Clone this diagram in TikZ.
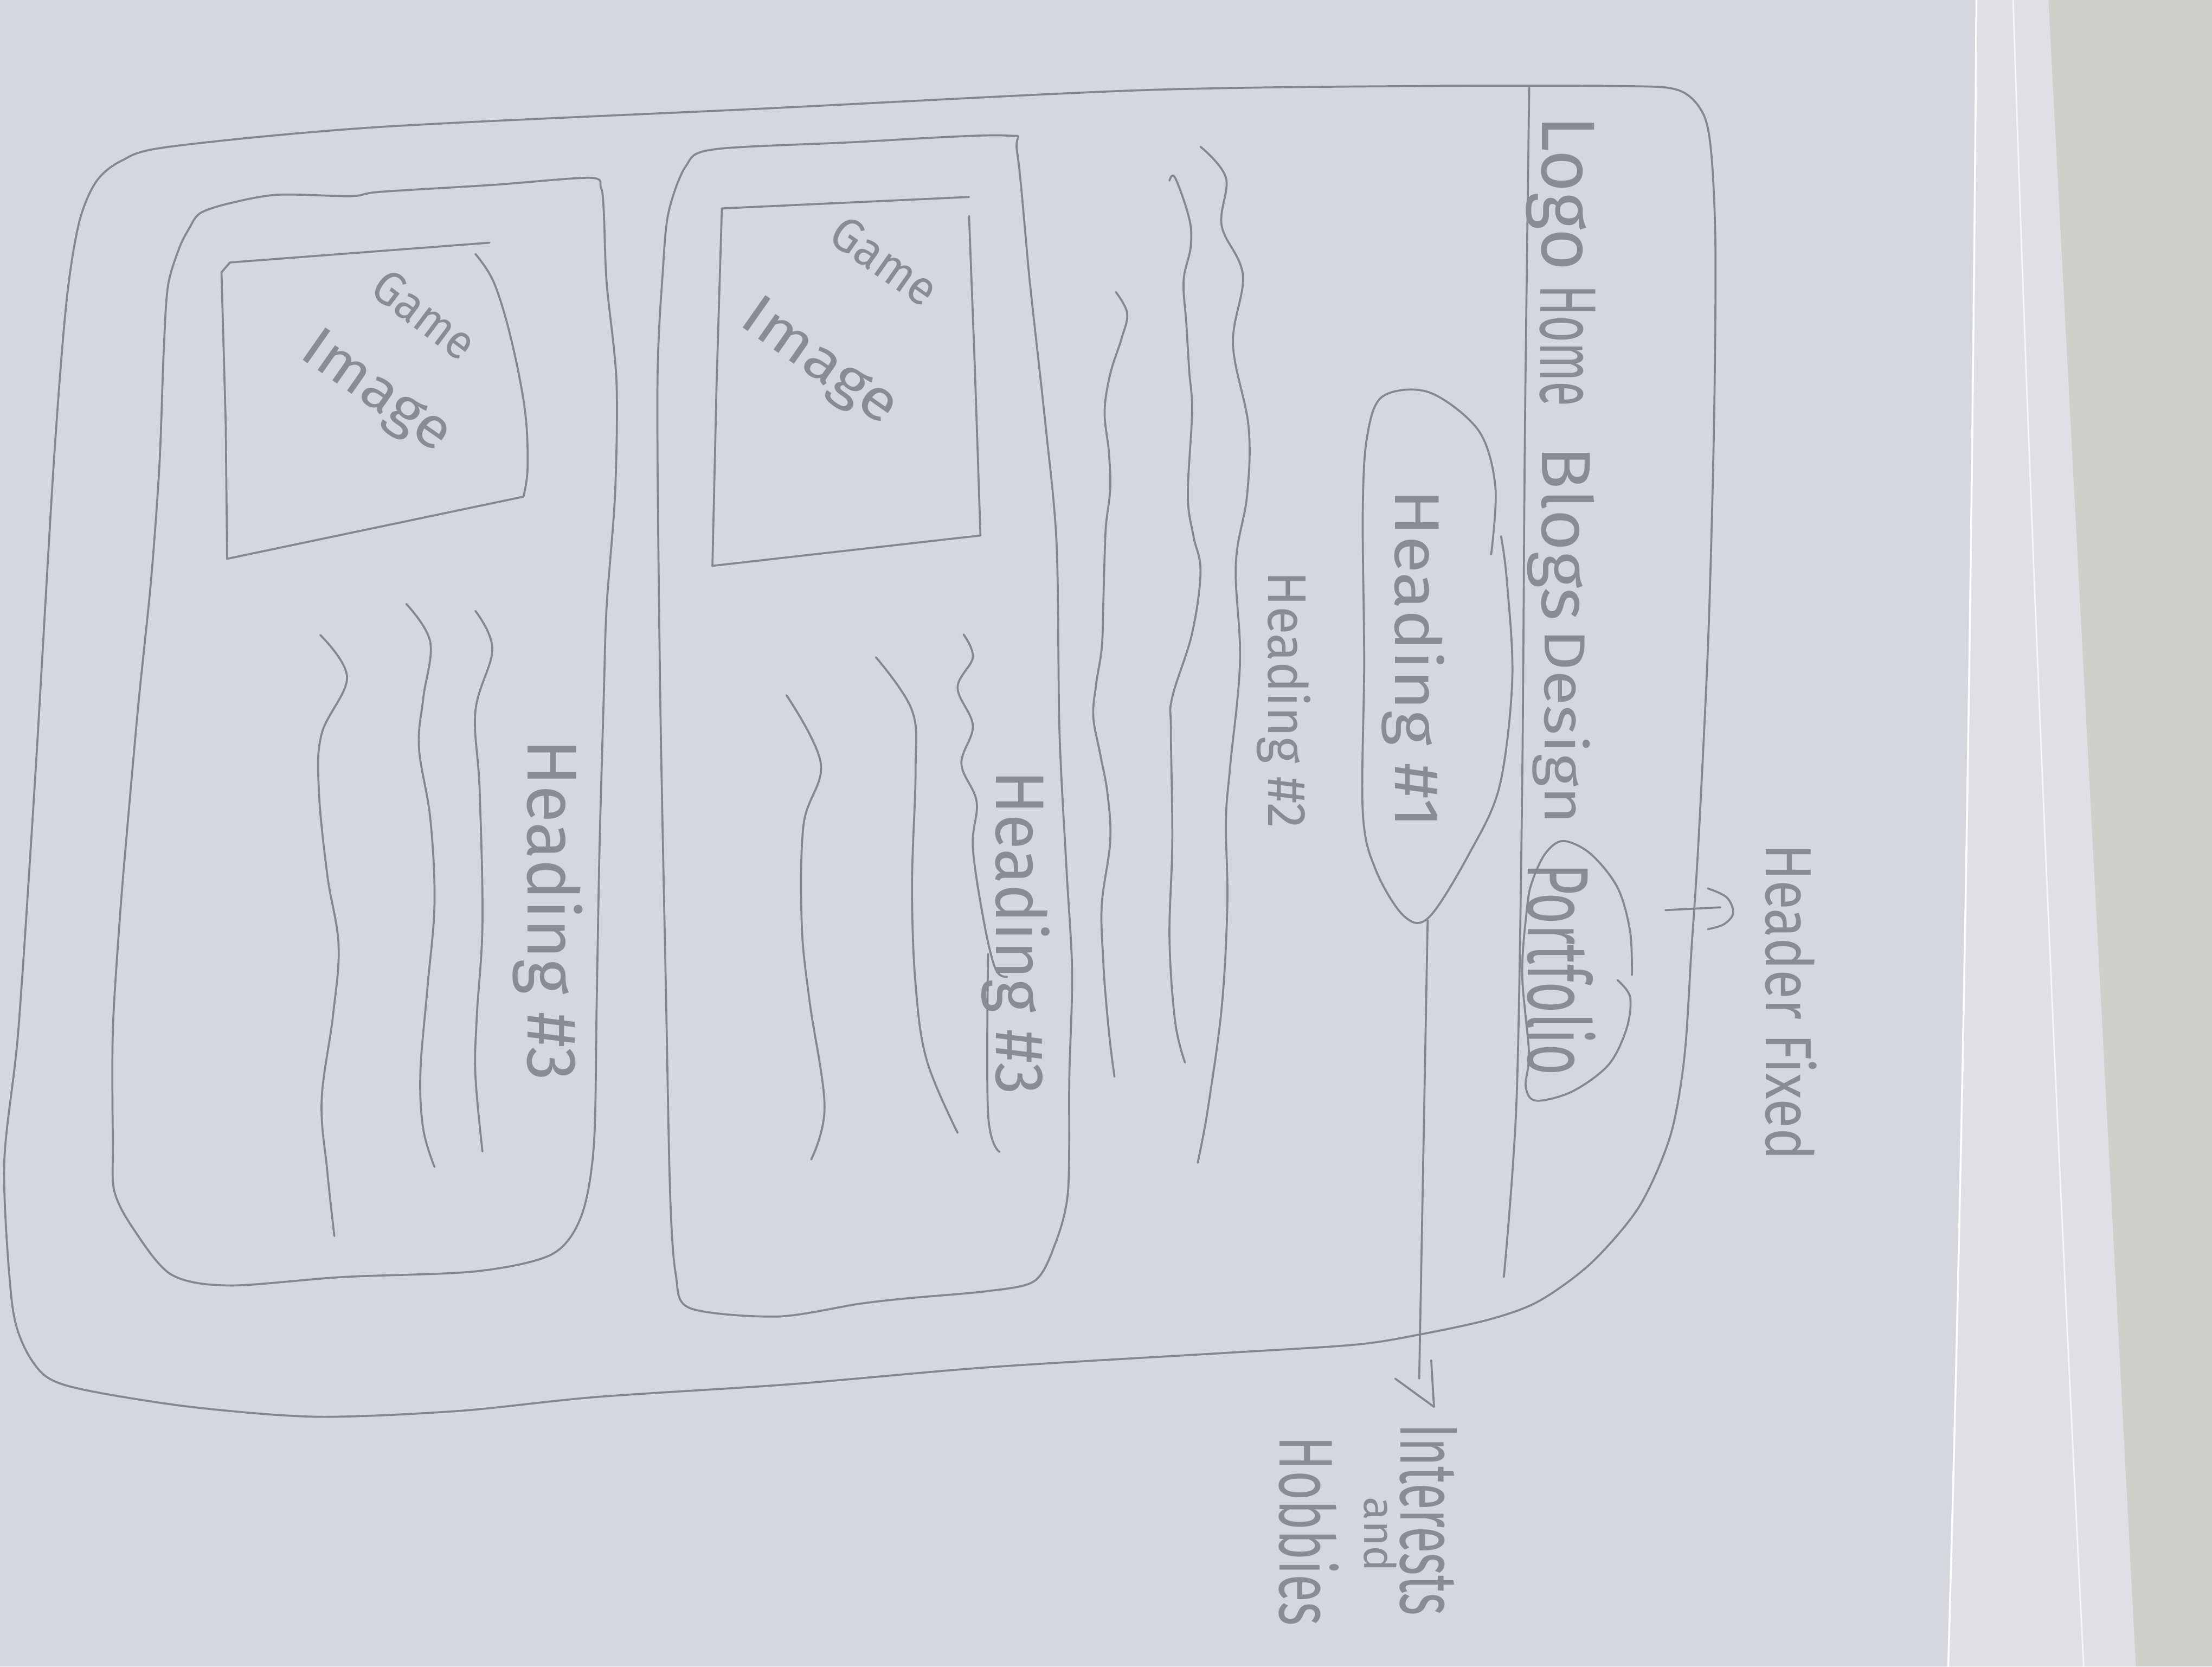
\documentclass[tikz,border=0pt]{standalone}
\usepackage{fontspec}
\usepackage{graphicx}
% hairline hand-lettering face, with fallbacks
\IfFontExistsTF{FiraSans-Hair.otf}
  {\newfontfamily\hand{FiraSans-Hair.otf}}
  {\IfFontExistsTF{FiraSans-Thin.otf}
    {\newfontfamily\hand{FiraSans-Thin.otf}}
    {\newfontfamily\hand{Fira Sans}}}
\newlength\sku
\setlength\sku{0.026cm}
% \hw{length}{height}{word}: a word squeezed to the given size
\newcommand\hw[3]{\resizebox{#1\sku}{#2\sku}{\hand #3}}
\definecolor{wall}{HTML}{CFD0CA}
\definecolor{sheet}{HTML}{D5D7DF}
\definecolor{sheetedge}{HTML}{DEE0E6}
\definecolor{pencil}{HTML}{85878F}
\definecolor{lettering}{HTML}{8A8C94}
\tikzset{
  pen/.style={draw=pencil, line width=1.05pt, line cap=round, line join=round},
  note/.style={text=lettering, inner sep=0pt, outer sep=0pt},
  vnote/.style={note, rotate=-90, anchor=base west},
}
\begin{document}
\begin{tikzpicture}[x=0.026cm, y=-0.026cm]
\useasboundingbox (0,0) rectangle (1568,1181);

% desk and paper sheets
\fill[wall] (0,0) rectangle (1568,1181);
\fill[sheetedge] (0,0) -- (1452,0) -- (1514,1181) -- (0,1181) -- cycle;
\fill[sheet] (0,0) -- (1401,0) .. controls (1398,400) and (1392,800) .. (1381,1181) -- (0,1181) -- cycle;
\draw[white, line width=1pt] (1401,0) .. controls (1398,400) and (1392,800) .. (1381,1181);
\draw[white!70!sheetedge, line width=0.8pt] (1427,0) .. controls (1440,400) and (1458,800) .. (1477,1181);

% page frame
\draw[pen] plot[smooth cycle, tension=0.5] coordinates {
  (38,330) (47,215) (56,158) (68,129) (86,114) (120,104) (269,90) (540,77)
  (807,64) (1000,61) (1150,61) (1190,64) (1207,80) (1213,108) (1216,175)
  (1215,300) (1211,450) (1204,596) (1199,673) (1194,749) (1184,805)
  (1162,855) (1128,895) (1091,922) (1056,935) (1005,946) (960,953)
  (865,959) (700,969) (560,981) (423,990) (324,1000) (224,1004) (135,997)
  (60,985) (32,975) (16,952) (8,919) (3,825) (13,730) (25,550)};

% header separator
\draw[pen] plot[smooth, tension=0.5] coordinates {(1084,62) (1081,300) (1079,557) (1075,780) (1066,905)};

% navigation
\node[vnote] (logo) at (1093,82) {\hw{110}{37}{Logo}};
\node[vnote] (home) at (1092,202) {\hw{86}{39}{Home}};
\node[vnote] (blogs) at (1093,316) {\hw{124}{37}{Blogs}};
\node[vnote] (design) at (1095,446) {\hw{138}{32}{Design}};
\node[vnote] (portfolio) at (1083,612) {\hw{150}{48}{Portfolio}};
\draw[pen] plot[smooth, tension=0.55] coordinates {
  (1156.8,691) (1155.5,660) (1146.6,629) (1127.4,605) (1108,596) (1095.3,605)
  (1086,625) (1082.5,643) (1079,690) (1083.8,746) (1081.5,770) (1089,780)
  (1114.5,773.5) (1140.2,754.6) (1153,729) (1155.5,706.6) (1146.6,694.6)};

% fixed-header note
\node[vnote] (fixed) at (1252,598) {\hw{224}{36}{Header Fixed}};
\coordinate (fxtail) at (1180.5,645);
\coordinate (fxhead) at (1219.5,643);
\draw[pen] (fxtail) -- (fxhead);
\draw[pen] plot[smooth, tension=0.6] coordinates {(1210.6,629.6) (1224,636) (1228.5,647) (1222,655) (1210.6,658.5)};

% heading #1 bubble
\draw[pen] plot[smooth, tension=0.55] coordinates {
  (1057,393) (1060,345) (1048,305) (1013,278) (980,281) (969,310) (966,363)
  (967,469) (966,575) (975,616) (995,649) (1013,650) (1042,604) (1063,557)
  (1072,481) (1068,410) (1064,380)};
\node[vnote] (h1) at (989,347) {\hw{240}{35}{Heading \#1}};
\node[vnote] (h2) at (899,405) {\hw{182}{30}{Heading \#2}};

% link to interests
\coordinate (h1bot) at (1012,652);
\coordinate (ihend) at (1006,977);
\draw[pen] (h1bot) .. controls (1010,760) and (1008,870) .. (ihend);
\coordinate (ihtip) at (1016.5,997);
\draw[pen] (989,977) -- (ihtip);
\draw[pen] (1014.5,964) -- (ihtip);
\node[vnote] (interests) at (993,1009) {\hw{136}{40}{Interests}};
\node[vnote] (and) at (967,1061) {\hw{53}{23}{and}};
\node[vnote] (hobbies) at (907,1018) {\hw{134}{42}{Hobbies}};

% body text lines
\draw[pen] plot[smooth, tension=0.6] coordinates {
  (791,207) (799,222) (795,240) (787,265) (783,292) (786,320) (787,346)
  (784,372) (783,395) (782,430) (781,459) (777,485) (775,508) (780,535)
  (785,562) (787,596) (781,641) (782,680) (784,709) (787,740) (790,763)};
\draw[pen] plot[smooth, tension=0.6] coordinates {
  (829,128) (833,126) (843,155) (844,175) (839,199) (841,230) (843,263)
  (845,292) (842,351) (846,380) (851,405) (845,449) (831,494) (830,518)
  (831,596) (829,665) (833,724) (840,753)};
\draw[pen] plot[smooth, tension=0.6] coordinates {
  (851,104) (869,126) (866,160) (881,195) (874,244) (885,302) (884,351)
  (876,400) (879,469) (872,543) (869,582) (870,641) (866,714) (856,787)
  (849,824)};

% card 1
\draw[pen] plot[smooth cycle, tension=0.5] coordinates {
  (505,106) (600,101) (712,96) (721,108) (730,200) (741,300) (749,386)
  (751,518) (756,616) (760,689) (758,763) (757,845) (747,884) (733,908)
  (700,915) (644,920) (609,924) (551,933) (489,927) (479,903) (475,845)
  (472,700) (468,493) (466,277) (470,190) (474,150) (486,118)};
\draw[pen] (686.9,139.6) -- (511.7,147.7) -- (508,270) -- (505,401) -- (695,379.5) -- (691,260) -- (686.9,153);
\node[note, rotate=-35] (c1game) at (627,185) {\hw{84}{24}{Game}};
\node[note, rotate=-35] (c1image) at (580,258) {\hw{126}{28}{Image}};
\draw[pen] plot[smooth, tension=0.6] coordinates {
  (557.5,492.7) (581.8,541) (569.6,584.4) (568.3,654.5) (573.7,708.4) (584.5,783.9) (575,821.7)};
\draw[pen] plot[smooth, tension=0.6] coordinates {
  (620.9,465.8) (646.5,503.5) (649,546.7) (646.5,627.5) (649,697.6) (657,751.6) (678.8,802.8)};
\draw[pen] plot[smooth, tension=0.6] coordinates {
  (683,449.6) (689.6,465.8) (678.8,487.4) (689.6,514.3) (681.5,541.3) (692.3,568.2)
  (689.6,600.6) (697.7,654.5) (705.8,686.9) (713.9,692.3)};
\draw[pen] plot[smooth, tension=0.6] coordinates {(700.4,676) (700.4,789.3) (708.5,816.3)};
\node[vnote] (c1head) at (706,546) {\hw{230}{38}{Heading \#3}};

% card 2
\draw[pen] plot[smooth cycle, tension=0.5] coordinates {
  (142,151) (163,144) (197,138) (249,139) (269,136) (350,131) (418,126)
  (426,133) (428,150) (430,200) (437,270) (436,350) (430,430) (428,493)
  (425,600) (423,708) (421,811) (412,862) (391,889) (337,901) (243,905)
  (162,911) (121,903) (94,870) (81,844) (80,811) (80,730) (85,650) (89,601)
  (98,500) (107,412) (113,330) (116,250) (119,203) (127,176) (134,162)};
\draw[pen] (347,172) -- (163,186) -- (157,193) -- (160,300) -- (161,396) -- (371,352);
\draw[pen] plot[smooth, tension=0.6] coordinates {(371,352) (374,331) (372,290) (362,239) (350,200) (337,180)};
\node[note, rotate=-37] (c2game) at (301,223) {\hw{82}{24}{Game}};
\node[note, rotate=-35] (c2image) at (266,279) {\hw{120}{28}{Image}};
\draw[pen] plot[smooth, tension=0.6] coordinates {
  (227,450) (246,480) (228,520) (226,560) (232,620) (240,670) (236,720) (228,780) (232,830) (237,876)};
\draw[pen] plot[smooth, tension=0.6] coordinates {
  (288,428) (305,455) (300,495) (297,530) (305,580) (308,640) (303,700) (298,760) (300,800) (308,827)};
\draw[pen] plot[smooth, tension=0.6] coordinates {
  (337,433) (349,460) (337,504) (340,560) (342,654) (338,720) (337,762) (342,816)};
\node[vnote] (c2head) at (374,524) {\hw{242}{39}{Heading \#3}};

\end{tikzpicture}
\end{document}
